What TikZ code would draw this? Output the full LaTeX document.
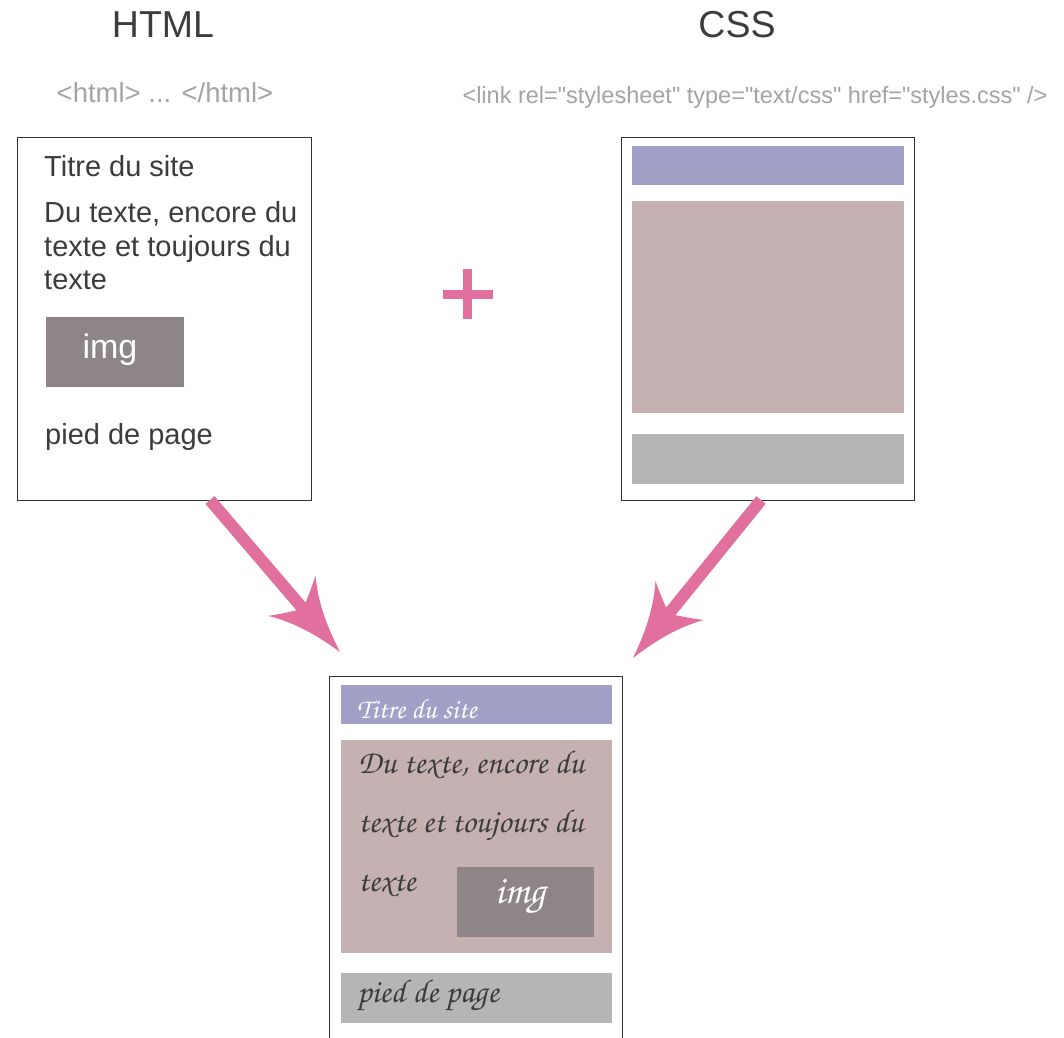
\documentclass[tikz,border=0pt]{standalone}
\usepackage[T1]{fontenc}
\usepackage{fontspec}
\setmainfont{Liberation Sans}
\usetikzlibrary{calc}
\definecolor{pinkc}{HTML}{E2709F}
\definecolor{barpurple}{HTML}{A3A0C8}
\definecolor{barmauve}{HTML}{C5B1B2}
\definecolor{bargray}{HTML}{B5B5B5}
\definecolor{imggray}{HTML}{8E8588}
\definecolor{txtdark}{HTML}{3C3C3C}
\definecolor{codegray}{HTML}{A4A4A4}
\newcommand{\hand}{\usefont{T1}{pzc}{mb}{it}}
\newcommand{\qq}{\textquotedbl}
\begin{document}
\begin{tikzpicture}[x=1pt,y=-1pt,
  frame/.style={draw=black!80, line width=1.3pt, fill=white, inner sep=0pt, anchor=north west},
  bar/.style={inner sep=0pt, anchor=north west, draw=none},
  title/.style={inner sep=0pt, anchor=base, text=txtdark, font=\fontsize{37.5}{40}\selectfont},
  code/.style={inner sep=0pt, anchor=base, text=codegray, font=\fontsize{27.5}{30}\selectfont},
  body/.style={inner sep=0pt, anchor=base west, text=txtdark, font=\fontsize{29}{33}\selectfont},
  handtxt/.style={inner sep=0pt, anchor=base west, text=txtdark, font=\hand\fontsize{33}{40}\selectfont},
  shaft/.style={draw=pinkc, line width=12pt},
  headfill/.style={fill=pinkc}
]
\useasboundingbox (0,0) rectangle (1064,1037);
\fill[white] (0,0) rectangle (1064,1037);

% titles
\node[title] (thtml) at (163,37) {HTML};
\node[title] (tcss) at (737,37) {CSS};
\node[code] (chtml) at (165,102) {<html> ... </html>};
\node[code, font=\fontsize{23.5}{26}\selectfont] (ccss) at (755,103) {<link rel=\qq stylesheet\qq{} type=\qq text/css\qq{} href=\qq styles.css\qq{} />};

% HTML box
\node[frame, minimum width=294pt, minimum height=363pt] (hbox) at (17,137) {};
\node[body] (h1) at (44,176) {Titre du site};
\node[body] (h2) at (44,222) {Du texte, encore du};
\node[body] (h3) at (44,256) {texte et toujours du};
\node[body] (h4) at (44,289) {texte};
\node[bar, fill=imggray, minimum width=138pt, minimum height=70pt] (himg) at (46,317) {};
\node[inner sep=0pt, anchor=base, text=white, font=\fontsize{34}{36}\selectfont] (himgt) at (110,358) {img};
\node[body] (h5) at (45,444) {pied de page};

% plus
\draw[pinkc, line width=8.5pt] (443,294.5) -- (493,294.5);
\draw[pinkc, line width=9pt] (467.5,269) -- (467.5,319);

% CSS box
\node[frame, minimum width=293pt, minimum height=363pt] (cbox) at (621,137) {};
\node[bar, fill=barpurple, minimum width=272pt, minimum height=39pt] (c1) at (632,146) {};
\node[bar, fill=barmauve, minimum width=272pt, minimum height=212pt] (c2) at (632,201) {};
\node[bar, fill=bargray, minimum width=272pt, minimum height=50pt] (c3) at (632,434) {};

% result box
\node[frame, minimum width=293pt, minimum height=380pt] (rbox) at (329,676) {};
\node[bar, fill=barpurple, minimum width=271pt, minimum height=39pt] (r1) at (341,685) {};
\node[bar, fill=barmauve, minimum width=271pt, minimum height=213pt] (r2) at (341,740) {};
\node[bar, fill=imggray, minimum width=137pt, minimum height=70pt] (rimg) at (457,867) {};
\node[bar, fill=bargray, minimum width=271pt, minimum height=50pt] (r3) at (341,973) {};
\node[handtxt, text=white, font=\hand\fontsize{28}{34}\selectfont] (rt1) at (357,718) {Titre du site};
\node[handtxt] (rt2) at (358,773) {Du texte, encore du};
\node[handtxt] (rt3) at (358,832) {texte et toujours du};
\node[handtxt] (rt4) at (358,891) {texte};
\node[inner sep=0pt, anchor=base, text=white, font=\hand\fontsize{40}{42}\selectfont] (rimgt) at (520,903) {img};
\node[handtxt] (rt5) at (357,1002) {pied de page};

% arrows
\coordinate (la0) at (210,500);
\coordinate (la1) at (340,652);
\coordinate (ra0) at (761,500);
\coordinate (ra1) at (633,658);
\draw[shaft, shorten >=56pt] (la0) -- (la1);
\draw[shaft, shorten >=56pt] (ra0) -- (ra1);
\begin{scope}[shift={(la1)}, rotate=-49.5]
  \fill[headfill] (0,0) .. controls (-25,6) and (-50,14) .. (-74,31)
    .. controls (-66,18) and (-61,8) .. (-57,0)
    .. controls (-61,-8) and (-66,-18) .. (-74,-31)
    .. controls (-50,-14) and (-25,-6) .. cycle;
\end{scope}
\begin{scope}[shift={(ra1)}, rotate=-129]
  \fill[headfill] (0,0) .. controls (-25,6) and (-50,14) .. (-74,31)
    .. controls (-66,18) and (-61,8) .. (-57,0)
    .. controls (-61,-8) and (-66,-18) .. (-74,-31)
    .. controls (-50,-14) and (-25,-6) .. cycle;
\end{scope}
\end{tikzpicture}
\end{document}
